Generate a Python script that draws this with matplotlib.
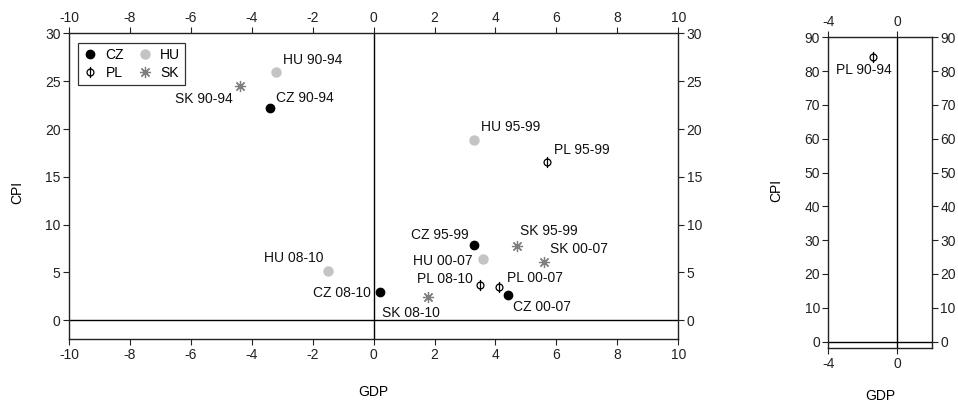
import matplotlib
matplotlib.use("Agg")
import matplotlib.pyplot as plt
from matplotlib.path import Path

plt.rcParams["font.family"] = ["Liberation Sans", "DejaVu Sans"]
plt.rcParams["font.size"] = 10
plt.rcParams["axes.unicode_minus"] = False

# average GDP growth vs CPI inflation by sub-period
periods = ["90-94", "95-99", "00-07", "08-10"]
cz_gdp = [-3.4, 3.3, 4.4, 0.2]
cz_cpi = [22.2, 7.9, 2.6, 3.0]
hu_gdp = [-3.2, 3.3, 3.6, -1.5]
hu_cpi = [26.0, 18.9, 6.4, 5.1]
pl_gdp = [-1.4, 5.7, 4.1, 3.5]
pl_cpi = [84.1, 16.5, 3.5, 3.7]
sk_gdp = [-4.4, 4.7, 5.6, 1.8]
sk_cpi = [24.5, 7.8, 6.1, 2.4]

main_xticks = list(range(-10, 11, 2))
main_yticks = list(range(0, 31, 5))
inset_xticks = [-4, 0]
inset_yticks = list(range(0, 91, 10))

# label offsets in pixels from the point (text centre)
label_offsets = {
    ("CZ", "90-94"): (35, 10), ("CZ", "95-99"): (-34, 10),
    ("CZ", "00-07"): (34, -12), ("CZ", "08-10"): (-38, -1),
    ("HU", "90-94"): (37, 12), ("HU", "95-99"): (36, 13),
    ("HU", "00-07"): (-40, -2), ("HU", "08-10"): (-34, 13),
    ("PL", "90-94"): (-9, -13), ("PL", "95-99"): (35, 12),
    ("PL", "00-07"): (36, 9), ("PL", "08-10"): (-35, 6),
    ("SK", "90-94"): (-36, -13), ("SK", "95-99"): (32, 15),
    ("SK", "00-07"): (35, 13), ("SK", "08-10"): (-18, -16),
}

# circle with a vertical bar through it, for Poland
phi = Path.make_compound_path(
    Path.circle((0, 0), 0.62),
    Path([(0, -1), (0, 1)], [Path.MOVETO, Path.LINETO]),
)

styles = {
    "CZ": dict(marker="o", color="black", ms=6, ls="none"),
    "HU": dict(marker="o", color="#c4c4c4", ms=6.5, ls="none"),
    "PL": dict(marker=phi, color="black", mfc="none", ms=8, mew=0.9, ls="none"),
    "SK": dict(marker=(8, 2, 0), color="#7f7f7f", ms=8, mew=0.9, ls="none"),
}
series = {
    "CZ": (cz_gdp, cz_cpi),
    "HU": (hu_gdp, hu_cpi),
    "PL": (pl_gdp, pl_cpi),
    "SK": (sk_gdp, sk_cpi),
}

fig = plt.figure(figsize=(9.58, 4.04), dpi=100)
ax = fig.add_axes([0.0720, 0.1601, 0.6360, 0.7572])
axi = fig.add_axes([0.8646, 0.1379, 0.1082, 0.7698])


def frame(a, xlim, ylim, xt, yt):
    a.set_xlim(*xlim)
    a.set_ylim(*ylim)
    a.set_xticks(xt)
    a.set_yticks(yt)
    a.axhline(0, color="black", lw=1, zorder=1)
    a.axvline(0, color="black", lw=1, zorder=1)
    a.tick_params(direction="out", length=4, width=0.8, colors="#222222",
                  top=True, right=True, labeltop=True, labelright=True, pad=2)
    for s in a.spines.values():
        s.set_linewidth(1.0)
        s.set_color("#222222")


frame(ax, (-10, 10), (-2, 30), main_xticks, main_yticks)
frame(axi, (-4, 2), (-2, 90), inset_xticks, inset_yticks)

handles = {}
for name, (gx, cy) in series.items():
    handles[name], = ax.plot(gx, cy, label=name, zorder=3, **styles[name])
    for g, c, p in zip(gx, cy, periods):
        dx, dy = label_offsets[(name, p)]
        target = ax if c <= 30 else axi
        if c > 30:
            axi.plot([g], [c], zorder=3, **styles[name])
        target.annotate(f"{name} {p}", (g, c), xytext=(dx, dy),
                        textcoords="offset pixels", ha="center", va="center",
                        fontsize=10, color="#111111")

leg = ax.legend([handles[k] for k in ["CZ", "PL", "HU", "SK"]],
                ["CZ", "PL", "HU", "SK"], ncol=2, loc="upper left",
                bbox_to_anchor=(0.0153, 0.9676), borderaxespad=0,
                fancybox=False, frameon=True, handlelength=1.0,
                handletextpad=0.6, columnspacing=1.0, labelspacing=0.25,
                borderpad=0.35, fontsize=10)
leg.get_frame().set_edgecolor("black")
leg.get_frame().set_linewidth(0.9)

ax.set_xlabel("GDP")
ax.set_ylabel("CPI")
ax.xaxis.label.set_va("center")
ax.yaxis.label.set_va("center")
ax.xaxis.set_label_coords(0.5, -0.171)
ax.yaxis.set_label_coords(-0.085, 0.48)

axi.set_xlabel("GDP")
axi.set_ylabel("CPI")
axi.xaxis.label.set_va("center")
axi.yaxis.label.set_va("center")
axi.xaxis.set_label_coords(0.5, -0.153)
axi.yaxis.set_label_coords(-0.504, 0.509)

fig.savefig("out.png", dpi=100)
